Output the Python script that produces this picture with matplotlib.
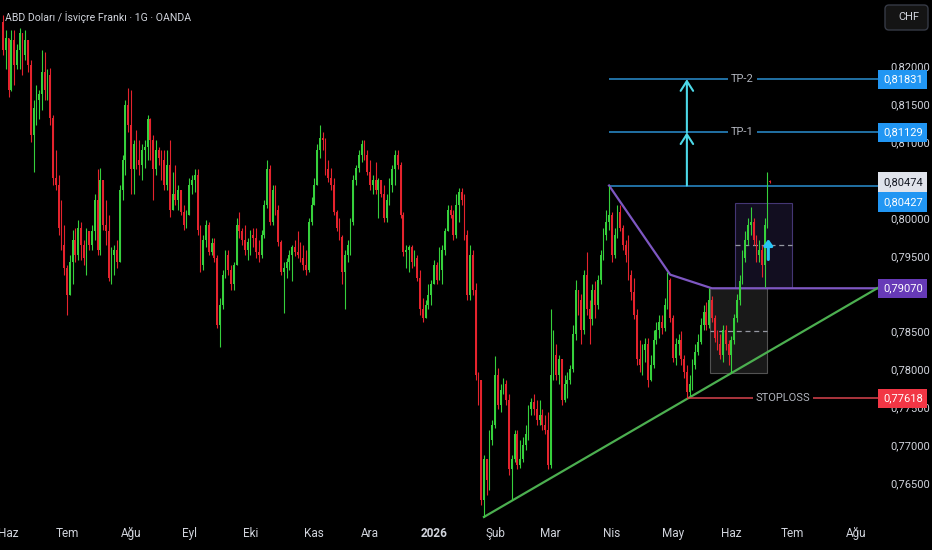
import numpy as np
import matplotlib.pyplot as plt
from matplotlib.patches import Rectangle, FancyBboxPatch
from matplotlib.transforms import blended_transform_factory, IdentityTransform

plt.rcParams['font.family'] = ['Roboto', 'DejaVu Sans']

# daily USD/CHF candles, Jun 2025 -> Jun 2026 (open = previous close)
first_open = 0.8259
closes = [
    0.8222, 0.8238, 0.8169, 0.8235, 0.8202, 0.8222, 0.8244, 0.8215, 0.8235, 0.8202,
    0.8110, 0.8145, 0.8156, 0.8163, 0.8193, 0.8169, 0.8189, 0.8132, 0.8053, 0.8044,
    0.7987, 0.7964, 0.7934, 0.7898, 0.7942, 0.7971, 0.7951, 0.7987, 0.7964, 0.7947,
    0.7982, 0.7964, 0.7982, 0.8024, 0.7958, 0.8050, 0.7991, 0.7982, 0.7921, 0.7951,
    0.7958, 0.7942, 0.8037, 0.8077, 0.8149, 0.8123, 0.8064, 0.8097, 0.8077, 0.8070,
    0.8090, 0.8093, 0.8130, 0.8103, 0.8064, 0.8090, 0.8079,
    0.8077, 0.8044, 0.8070, 0.8011, 0.8031, 0.8024, 0.8037, 0.8008, 0.7991, 0.8004,
    0.8044, 0.8050, 0.8057, 0.7984, 0.7938, 0.7971, 0.7991, 0.7955, 0.7967, 0.7947,
    0.7859, 0.7885, 0.7925, 0.7951, 0.7931, 0.7912, 0.7938, 0.7991, 0.7982, 0.7971,
    0.7958, 0.7968, 0.7978, 0.7974, 0.7955, 0.7951, 0.7978, 0.8017, 0.8064, 0.7995,
    0.8037, 0.8011, 0.7968, 0.7929, 0.7934, 0.7942, 0.7951, 0.7961, 0.7955, 0.7951,
    0.7947, 0.7938, 0.7931, 0.7995, 0.8017, 0.8044,
    0.8090, 0.8106, 0.8103, 0.8064, 0.8053, 0.8044, 0.8008, 0.7987, 0.7975, 0.7929,
    0.7951, 0.7964, 0.7995, 0.8050, 0.8066, 0.8083, 0.8097, 0.8083, 0.8061, 0.8044,
    0.8050, 0.8037, 0.8050, 0.8031, 0.8000, 0.8024, 0.8044, 0.8064, 0.8083, 0.8070,
    0.8004, 0.7955, 0.7958, 0.7961, 0.7942, 0.7947, 0.7921, 0.7879, 0.7868, 0.7885,
    0.7898, 0.7912, 0.7938, 0.7918, 0.7931, 0.7958, 0.7982, 0.8011, 0.8004, 0.7978,
    0.8017, 0.8034, 0.8024, 0.7978, 0.7898, 0.7951, 0.7905, 0.7793, 0.7786, 0.7628, 0.7681,
    0.7654, 0.7707, 0.7727, 0.7793, 0.7753, 0.7773, 0.7780, 0.7760, 0.7668, 0.7681,
    0.7714, 0.7674, 0.7681, 0.7700, 0.7714, 0.7747, 0.7757, 0.7747, 0.7733, 0.7740,
    0.7727, 0.7720, 0.7674, 0.7793, 0.7819, 0.7793, 0.7813, 0.7760, 0.7780, 0.7786,
    0.7800, 0.7846, 0.7905, 0.7892, 0.7852, 0.7925, 0.7879, 0.7866, 0.7905, 0.7885,
    0.7918, 0.7951,
    0.7978, 0.7995, 0.8004, 0.7951, 0.7978, 0.8008, 0.7987, 0.7964, 0.7951, 0.7925,
    0.7902, 0.7872, 0.7813, 0.7806, 0.7826, 0.7833, 0.7786, 0.7806, 0.7839, 0.7852,
    0.7863, 0.7855, 0.7885, 0.7918, 0.7868, 0.7815, 0.7833, 0.7839, 0.7813, 0.7797,
    0.7770, 0.7780, 0.7806, 0.7823, 0.7836, 0.7859, 0.7876, 0.7859, 0.7892, 0.7868,
    0.7842, 0.7833, 0.7819, 0.7852, 0.7833, 0.7819, 0.7839, 0.7868, 0.7892, 0.7916,
    0.7947, 0.7971, 0.7991, 0.7995, 0.7971, 0.7951, 0.7958, 0.7938, 0.7991, 0.8049,
    0.80474,
]
highs = [
    0.8268, 0.8248, 0.8229, 0.8248, 0.8248, 0.8229, 0.8251, 0.8222, 0.8248, 0.8235,
    0.8209, 0.8156, 0.8176, 0.8169, 0.8222, 0.8219, 0.8196, 0.8198, 0.8136, 0.8090,
    0.8057, 0.8024, 0.7991, 0.7938, 0.7951, 0.7984, 0.7987, 0.7997, 0.7995, 0.7971,
    0.7987, 0.7982, 0.7991, 0.8031, 0.8064, 0.8066, 0.8044, 0.8024, 0.8004, 0.7961,
    0.7964, 0.7971, 0.8044, 0.8083, 0.8156, 0.8172, 0.8169, 0.8103, 0.8116, 0.8103,
    0.8097, 0.8103, 0.8136, 0.8132, 0.8110, 0.8103, 0.8093,
    0.8090, 0.8090, 0.8090, 0.8103, 0.8061, 0.8070, 0.8044, 0.8037, 0.8017, 0.8011,
    0.8053, 0.8057, 0.8064, 0.8064, 0.7991, 0.7978, 0.7997, 0.7995, 0.7974, 0.7974,
    0.7951, 0.7894, 0.7931, 0.7958, 0.7958, 0.7938, 0.7942, 0.8000, 0.8008, 0.7987,
    0.7991, 0.7974, 0.7984, 0.7987, 0.7987, 0.7971, 0.7984, 0.8024, 0.8077, 0.8070,
    0.8044, 0.8044, 0.8017, 0.7971, 0.7942, 0.7947, 0.7958, 0.7964, 0.7971, 0.7982,
    0.7968, 0.7964, 0.7958, 0.8000, 0.8027, 0.8053,
    0.8097, 0.8123, 0.8114, 0.8106, 0.8077, 0.8066, 0.8053, 0.8011, 0.8000, 0.7978,
    0.7958, 0.7971, 0.8000, 0.8057, 0.8070, 0.8090, 0.8103, 0.8103, 0.8090, 0.8077,
    0.8057, 0.8074, 0.8053, 0.8050, 0.8044, 0.8031, 0.8053, 0.8070, 0.8090, 0.8090,
    0.8074, 0.8008, 0.7964, 0.7964, 0.7964, 0.7958, 0.7951, 0.7931, 0.7894, 0.7892,
    0.7912, 0.7918, 0.7945, 0.7942, 0.7961, 0.7964, 0.7987, 0.8017, 0.8017, 0.8011,
    0.8031, 0.8040, 0.8040, 0.8031, 0.7984, 0.7964, 0.7958, 0.7914, 0.7797, 0.7786, 0.7687,
    0.7674, 0.7720, 0.7733, 0.7817, 0.7802, 0.7780, 0.7789, 0.7786, 0.7767, 0.7687,
    0.7720, 0.7720, 0.7707, 0.7710, 0.7727, 0.7753, 0.7762, 0.7767, 0.7760, 0.7760,
    0.7747, 0.7740, 0.7744, 0.7879, 0.7852, 0.7833, 0.7819, 0.7813, 0.7793, 0.7797,
    0.7806, 0.7859, 0.7918, 0.7905, 0.7899, 0.7931, 0.7955, 0.7892, 0.7912, 0.7916,
    0.7925, 0.7958,
    0.7987, 0.8011, 0.80427, 0.8008, 0.7987, 0.8017, 0.8017, 0.7991, 0.7971, 0.7978,
    0.7931, 0.7921, 0.7879, 0.7839, 0.7833, 0.7842, 0.7842, 0.7819, 0.7852, 0.7863,
    0.7872, 0.7872, 0.7894, 0.7928, 0.7921, 0.7872, 0.7842, 0.7846, 0.7850, 0.7819,
    0.7806, 0.7793, 0.7813, 0.7833, 0.7846, 0.7868, 0.7885, 0.7889, 0.7907, 0.7897,
    0.7872, 0.7852, 0.7846, 0.7858, 0.7859, 0.7839, 0.7844, 0.7873, 0.7899, 0.7925,
    0.7958, 0.7982, 0.8000, 0.8015, 0.8000, 0.7978, 0.7971, 0.7964, 0.8000, 0.8061,
    0.8050,
]
lows = [
    0.8215, 0.8196, 0.8160, 0.8167, 0.8176, 0.8196, 0.8196, 0.8189, 0.8209, 0.8193,
    0.8100, 0.8061, 0.8123, 0.8130, 0.8143, 0.8156, 0.8156, 0.8123, 0.8044, 0.8037,
    0.7978, 0.7958, 0.7925, 0.7872, 0.7898, 0.7912, 0.7942, 0.7945, 0.7945, 0.7938,
    0.7925, 0.7958, 0.7958, 0.7971, 0.7951, 0.7951, 0.7984, 0.7964, 0.7916, 0.7912,
    0.7925, 0.7934, 0.7942, 0.8024, 0.8057, 0.8114, 0.8031, 0.8031, 0.8064, 0.8057,
    0.8050, 0.8066, 0.8077, 0.8077, 0.8024, 0.8057, 0.8070,
    0.8050, 0.8037, 0.8037, 0.8001, 0.8011, 0.8017, 0.8011, 0.8004, 0.7984, 0.7987,
    0.8004, 0.8031, 0.8034, 0.7978, 0.7929, 0.7931, 0.7961, 0.7951, 0.7951, 0.7942,
    0.7855, 0.7830, 0.7879, 0.7921, 0.7925, 0.7905, 0.7905, 0.7938, 0.7974, 0.7964,
    0.7951, 0.7945, 0.7951, 0.7961, 0.7947, 0.7942, 0.7947, 0.7974, 0.8013, 0.7990,
    0.7991, 0.8004, 0.7963, 0.7925, 0.7875, 0.7921, 0.7931, 0.7916, 0.7950, 0.7947,
    0.7942, 0.7931, 0.7925, 0.7929, 0.7991, 0.8017,
    0.8044, 0.8079, 0.8090, 0.8057, 0.8048, 0.8037, 0.8004, 0.7982, 0.7971, 0.7912,
    0.7879, 0.7942, 0.7951, 0.7991, 0.8044, 0.8061, 0.8074, 0.8077, 0.8057, 0.8037,
    0.8031, 0.8031, 0.8000, 0.8027, 0.7995, 0.7995, 0.8017, 0.8034, 0.8044, 0.8064,
    0.8000, 0.7950, 0.7934, 0.7929, 0.7934, 0.7937, 0.7916, 0.7872, 0.7863, 0.7868,
    0.7879, 0.7885, 0.7912, 0.7912, 0.7921, 0.7912, 0.7951, 0.7987, 0.8000, 0.7971,
    0.7974, 0.7995, 0.8017, 0.7971, 0.7892, 0.7892, 0.7898, 0.7786, 0.7753, 0.7621, 0.7605,
    0.7634, 0.7641, 0.7700, 0.7723, 0.7747, 0.7744, 0.7767, 0.7753, 0.7661, 0.7628,
    0.7678, 0.7668, 0.7670, 0.7678, 0.7694, 0.7707, 0.7740, 0.7740, 0.7727, 0.7727,
    0.7720, 0.7714, 0.7668, 0.7670, 0.7786, 0.7786, 0.7780, 0.7753, 0.7757, 0.7762,
    0.7780, 0.7797, 0.7839, 0.7872, 0.7833, 0.7846, 0.7872, 0.7833, 0.7859, 0.7868,
    0.7879, 0.7912,
    0.7945, 0.7971, 0.7984, 0.7942, 0.7947, 0.7974, 0.7982, 0.7958, 0.7942, 0.7918,
    0.7892, 0.7866, 0.7806, 0.7797, 0.7793, 0.7810, 0.7776, 0.7784, 0.7802, 0.7833,
    0.7842, 0.7846, 0.7850, 0.7879, 0.7863, 0.7810, 0.7806, 0.7819, 0.7806, 0.7789,
    0.77618, 0.7765, 0.7773, 0.7800, 0.7819, 0.7833, 0.7852, 0.7852, 0.7855, 0.7863,
    0.7836, 0.7826, 0.7813, 0.7810, 0.7826, 0.7806, 0.7795, 0.7833, 0.7863, 0.7885,
    0.7912, 0.7942, 0.7964, 0.7978, 0.7964, 0.7942, 0.7942, 0.7922, 0.7909, 0.7987,
    0.8046,
]
assert len(closes) == len(highs) == len(lows)

month_bars = [2, 23, 46, 67, 89, 112, 132, 155, 177, 197, 219, 241, 262, 284, 307]
month_labels = ['Haz', 'Tem', 'Ağu', 'Eyl', 'Eki', 'Kas', 'Ara', '2026',
                'Şub', 'Mar', 'Nis', 'May', 'Haz', 'Tem', 'Ağu']
# scale labels that are not covered by a price tag
price_ticks = [0.765, 0.770, 0.775, 0.780, 0.785, 0.795,
               0.800, 0.810, 0.815, 0.820]

# drawing levels
tp2 = 0.81831
tp1 = 0.81129
entry = 0.80427
last_price = 0.80474
breakout = 0.79070
stoploss = 0.77618

top_bar = 218        # Nisan tepe
low_bar = 246        # Mayis dip
wedge_bars = [218, 240, 255]
wedge_prices = [0.80427, 0.7925, 0.7907]
trend_bars = [173, 262]
trend_prices = [0.7605, 0.7795]
gray_box = (254.3, 274.8, 0.7795, 0.7907)
purple_box = (263.3, 283.8, 0.7907, 0.8020)

GREEN = '#36d03c'
RED = '#e5232d'
BLUE = '#2b8fd0'
CYAN = '#4dd9e8'
TXT = '#d1d4dc'

fig = plt.figure(figsize=(9.32, 5.5), dpi=100, facecolor='black')
ax = fig.add_axes([0, 30 / 550, 878 / 932, 520 / 550])
ax.set_facecolor('black')
xmax = 314.75
ax.set_xlim(-1.08, xmax)
ax.set_ylim(0.7601, 0.82877)

# candles
x = np.arange(len(closes))
c = np.array(closes)
o = np.r_[first_open, c[:-1]]
h = np.maximum.reduce([np.array(highs), o, c])
l = np.minimum.reduce([np.array(lows), o, c])
col = np.where(c >= o, GREEN, RED)
ax.vlines(x, l, h, colors=col, lw=0.8, zorder=3)
ax.bar(x, np.maximum(np.abs(c - o), 0.00004), bottom=np.minimum(o, c),
       width=0.62, color=col, lw=0, zorder=3)

# boxes
for (x0, x1, y0, y1), fc, ec in [(gray_box, (1, 1, 1, 0.10), (0.6, 0.6, 0.6, 0.5)),
                                 (purple_box, (0.55, 0.45, 1.0, 0.13), (0.5, 0.4, 0.85, 0.5))]:
    ax.add_patch(Rectangle((x0, y0), x1 - x0, y1 - y0, fc=fc, ec=ec, lw=0.8, zorder=1))
    ax.hlines((y0 + y1) / 2, x0, x1, colors='#9598a1', lw=0.9,
              linestyles=(0, (4, 3)), zorder=2)

# target lines
ax.hlines([tp2, tp1, entry], top_bar, xmax, colors=BLUE, lw=1.1, zorder=2)
for lvl, name in [(tp2, 'TP-2'), (tp1, 'TP-1')]:
    ax.text(266, lvl, name, ha='center', va='center', fontsize=8, color='#b2b5be',
            bbox=dict(boxstyle='square,pad=0.25', fc='black', ec='none'), zorder=4)
for y_from, y_to in [(entry, tp1), (tp1, tp2)]:
    ax.annotate('', xy=(low_bar, y_to), xytext=(low_bar, y_from),
                arrowprops=dict(arrowstyle='->,head_length=0.7,head_width=0.45',
                                color=CYAN, lw=1.5, shrinkA=0, shrinkB=0), zorder=4)

# wedge / breakout line
ax.plot(wedge_bars + [xmax], wedge_prices + [breakout], color='#7e57c2', lw=1.6, zorder=2)

# rising trendline
slope = (trend_prices[1] - trend_prices[0]) / (trend_bars[1] - trend_bars[0])
ax.plot([trend_bars[0], xmax],
        [trend_prices[0], trend_prices[0] + slope * (xmax - trend_bars[0])],
        color='#4caf50', lw=1.6, zorder=2)

# stop loss
ax.hlines(stoploss, low_bar, xmax, colors='#d9434e', lw=1.1, zorder=2)
ax.text(280.6, stoploss, 'STOPLOSS', ha='center', va='center', fontsize=8,
        color='#b2b5be', bbox=dict(boxstyle='square,pad=0.25', fc='black', ec='none'),
        zorder=4)

# small up arrow on last bars
ax.annotate('', xy=(275.3, 0.7972), xytext=(275.3, 0.7945),
            arrowprops=dict(arrowstyle='-|>,head_length=0.35,head_width=0.25',
                            color='#29c5f6', lw=2.2, shrinkA=0, shrinkB=0), zorder=5)

# axes styling
for s in ax.spines.values():
    s.set_visible(False)
ax.yaxis.tick_right()
ax.set_yticks(price_ticks, [f'{v:.5f}'.replace('.', ',') for v in price_ticks])
ax.tick_params(axis='y', length=0, pad=9, labelsize=8, labelcolor=TXT)
ax.set_xticks(month_bars, month_labels)
ax.tick_params(axis='x', length=0, pad=5, labelsize=8.5, labelcolor=TXT)
for t in ax.get_xticklabels():
    if t.get_text() == '2026':
        t.set_fontweight('bold')

# price tags on the right scale (entry tag stacked under the last price tag)
trans = blended_transform_factory(ax.transAxes, ax.transData)
tags = [(tp2, tp2, '#2196f3', 'white', 0), (tp1, tp1, '#2196f3', 'white', 0),
        (last_price, last_price, '#e0e3eb', '#131722', 0),
        (entry, last_price, '#2196f3', 'white', -20),
        (breakout, breakout, '#673ab7', 'white', 0),
        (stoploss, stoploss, '#f23645', 'white', 0)]
for val, anchor, fc, tc, dy in tags:
    ax.annotate(f'{val:.5f}'.replace('.', ','), xy=(1 + 5 / 878, anchor), xycoords=trans,
                xytext=(0, dy), textcoords='offset pixels',
                ha='left', va='center', fontsize=8, color=tc, annotation_clip=False,
                zorder=10, bbox=dict(boxstyle='square,pad=0.42', fc=fc, ec='none'))

# header / currency box
fig.text(5 / 932, 1 - 17 / 550, 'ABD Doları / İsviçre Frankı · 1G · OANDA',
         fontsize=7.6, color=TXT, va='center', ha='left')
fig.add_artist(FancyBboxPatch((885, 520), 43, 25, boxstyle='round,pad=0,rounding_size=4',
                              transform=IdentityTransform(), fc='#141414', ec='#363a45',
                              lw=1, zorder=5))
fig.text(898 / 932, 1 - 17.5 / 550, 'CHF', fontsize=8, color=TXT, va='center',
         ha='left', zorder=6)

fig.savefig('out.png', dpi=100, facecolor='black')
